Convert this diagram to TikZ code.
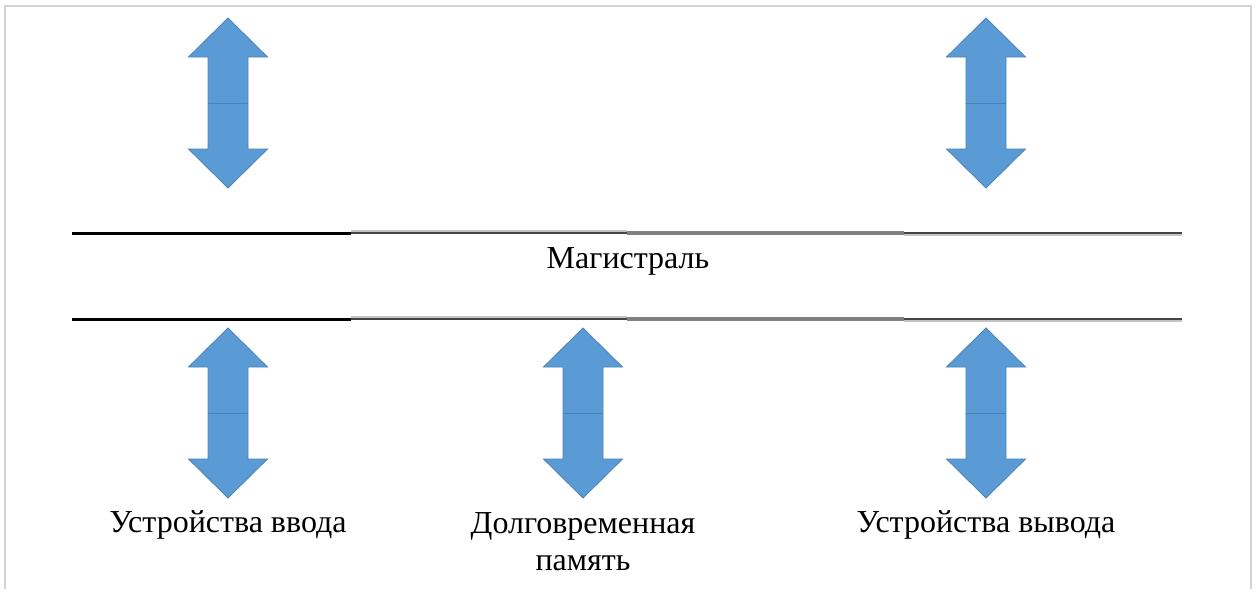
\documentclass[tikz,border=0pt]{standalone}
\usepackage{fontspec}
\setmainfont{Liberation Serif}
\begin{document}
\begin{tikzpicture}[x=1pt,y=-1pt,
  arrowfill/.style={fill=arrowblue,draw=arrowedge,line width=0.8pt,line join=miter},
  lbl/.style={font=\fontsize{32}{36}\selectfont,text=black,inner sep=0pt,align=center},
  frameline/.style={draw=framegray,line width=2pt},
  seg1/.style={draw=black,line width=3pt},
  seg2/.style={draw=segdark,line width=2.5pt},
  seg3/.style={draw=seggray,line width=3.5pt},
  seglight/.style={draw=seglite,line width=1.5pt},
  pics/dblarrow/.style={code={
    \path[arrowfill] (0,-85) -- (39.5,-46) -- (20,-46) -- (20,46) -- (39.5,46) -- (0,85)
      -- (-39.5,46) -- (-20,46) -- (-20,-46) -- (-39.5,-46) -- cycle;
    \draw[draw=arrowedge,line width=0.8pt] (-20,0) -- (20,0);
  }}]
\definecolor{arrowblue}{HTML}{5B9BD5}
\definecolor{arrowedge}{HTML}{4A82B8}
\definecolor{framegray}{HTML}{D4D4D4}
\definecolor{segdark}{HTML}{454545}
\definecolor{seggray}{HTML}{808080}
\definecolor{seglite}{HTML}{C4C4C4}
\useasboundingbox (0,0) rectangle (1257,589);
% frame
\draw[frameline] (5,589) -- (5,6) -- (1251,6) -- (1251,589);
% bus lines
\foreach \yy in {233,319}{
  \draw[seg1] (72,\yy) -- (351,\yy);
  \draw[seglight] (351,\yy-2) -- (627,\yy-2);
  \draw[seg2] (351,\yy) -- (627,\yy);
  \draw[seg3] (627,\yy) -- (904,\yy);
  \draw[seglight] (904,\yy+2) -- (1182,\yy+2);
  \draw[seg2] (904,\yy) -- (1182,\yy);
}
% arrows
\pic (a1) at (228,103) {dblarrow};
\pic (a2) at (986,103) {dblarrow};
\pic (a3) at (228,413) {dblarrow};
\pic (a4) at (583,413) {dblarrow};
\pic (a5) at (986,413) {dblarrow};
% labels
\node[lbl,anchor=base] (bus) at (628,268) {Магистраль};
\node[lbl,anchor=base] (in) at (228,532) {Устройства ввода};
\node[lbl,anchor=base] (mem1) at (583,533) {Долговременная};
\node[lbl,anchor=base] (mem2) at (583,570) {память};
\node[lbl,anchor=base] (out) at (986,532) {Устройства вывода};
\end{tikzpicture}
\end{document}
